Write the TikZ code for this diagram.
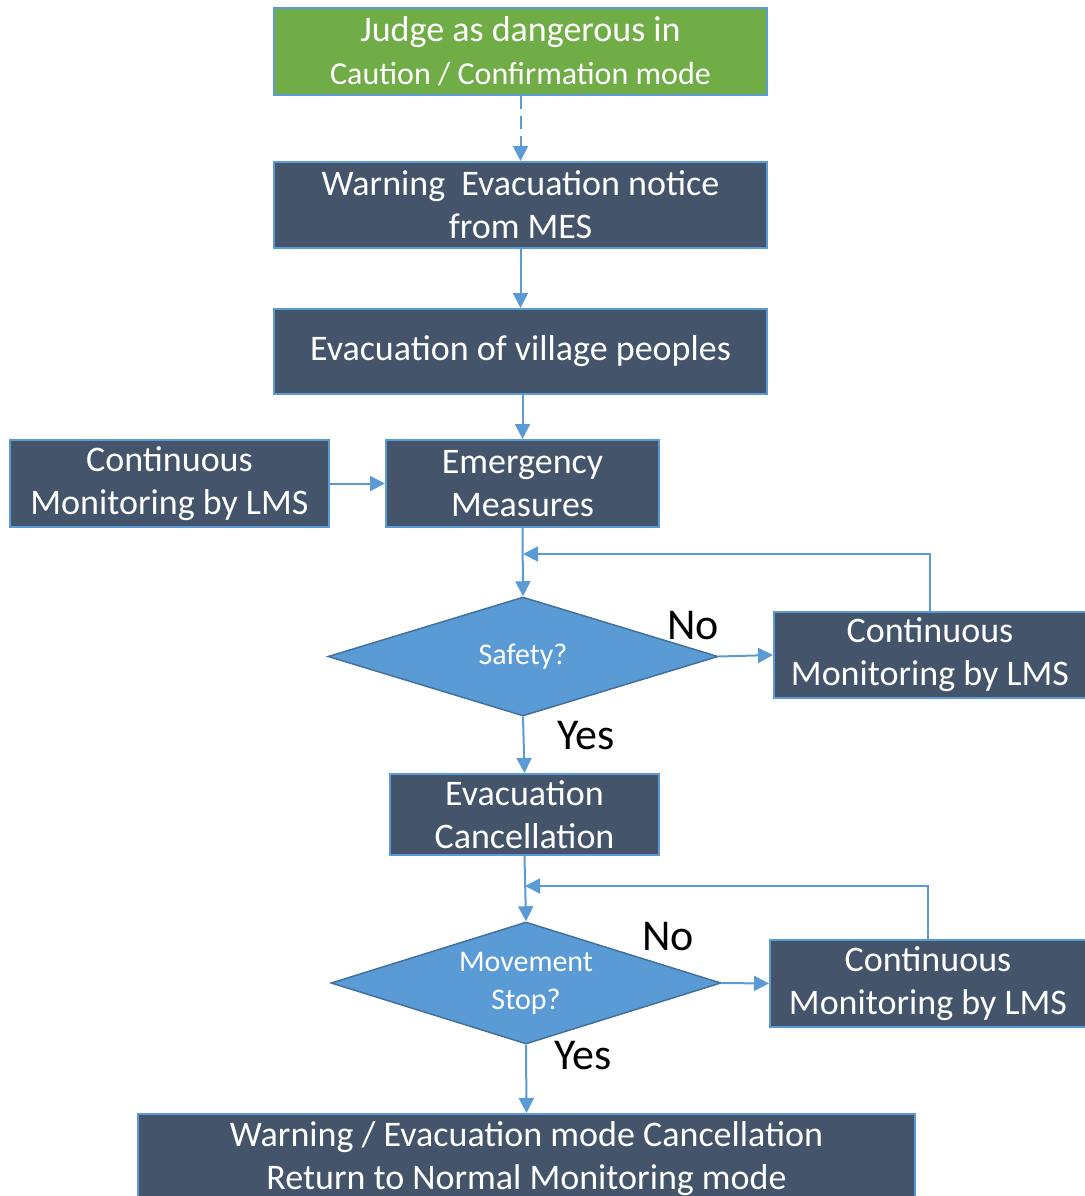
\documentclass[tikz,border=0pt]{standalone}
\usepackage{fontspec}
\setmainfont{Carlito}
\usetikzlibrary{arrows.meta,shapes.geometric}
\definecolor{boxfill}{HTML}{44546A}
\definecolor{boxedge}{HTML}{5B9BD5}
\definecolor{greenfill}{HTML}{70AD47}
\definecolor{diafill}{HTML}{5B9BD5}
\definecolor{diaedge}{HTML}{41719C}
\definecolor{flow}{HTML}{5B9BD5}
\tikzset{
  stepbox/.style={draw=boxedge, line width=2pt, fill=boxfill, text=white,
    align=center, inner sep=0pt, font=\fontsize{36}{43}\selectfont},
  startbox/.style={stepbox, fill=greenfill},
  decision/.style={diamond, draw=diaedge, line width=1.5pt, fill=diafill, text=white,
    align=center, inner sep=0pt, aspect=3.28, font=\fontsize{30}{38}\selectfont},
  flowline/.style={draw=flow, line width=2pt, -{Triangle[length=15pt,width=15pt]}},
  answer/.style={font=\fontsize{44}{44}\selectfont, text=black, inner sep=0pt}
}
\begin{document}
\begin{tikzpicture}[x=1pt,y=-1pt]
\useasboundingbox (0,0) rectangle (1084,1196);

% process boxes
\node[startbox, minimum width=493pt, minimum height=87pt] (judge) at (520.5,51.5)
  {Judge as dangerous in\\[0pt]{\fontsize{32}{38}\selectfont Caution / Confirmation mode}};
\node[stepbox, minimum width=493pt, minimum height=86pt] (notice) at (520.5,205)
  {Warning\hspace{0.45em}Evacuation notice\\from MES};
\node[stepbox, minimum width=493pt, minimum height=85pt] (evac) at (520.5,351.5)
  {Evacuation of village peoples};
\node[stepbox, minimum width=319pt, minimum height=87pt] (lmsleft) at (169.5,483.5)
  {Continuous\\Monitoring by LMS};
\node[stepbox, minimum width=273pt, minimum height=87pt] (emerg) at (522.5,483.5)
  {Emergency\\Measures};
\node[decision, minimum width=390pt, minimum height=119pt] (safety) at (523,656.5)
  {\raisebox{-4pt}{Safety?}};
\node[stepbox, minimum width=312pt, minimum height=86pt] (lmsone) at (930,655)
  {Continuous\\Monitoring by LMS};
\node[stepbox, minimum width=269pt, minimum height=81pt] (cancel) at (524.5,814.5)
  {Evacuation\\Cancellation};
\node[decision, minimum width=390pt, minimum height=122pt] (stop) at (526,983)
  {\raisebox{-4pt}{Movement}\\\raisebox{-4pt}{Stop?}};
\node[stepbox, minimum width=316pt, minimum height=87pt] (lmstwo) at (928,983.5)
  {Continuous\\Monitoring by LMS};
\node[stepbox, minimum width=777pt, minimum height=90pt] (final) at (526.5,1159)
  {Warning / Evacuation mode Cancellation\\Return to Normal Monitoring mode};

% merge points of the feedback loops
\coordinate (joinone) at (523,554);
\coordinate (jointwo) at (525,886);

% connectors
\draw[flowline, dashed, dash pattern=on 13pt off 7pt] (judge.south) -- (notice.north);
\draw[flowline] (notice.south) -- (evac.north);
\draw[flowline] (evac.south -| emerg.north) -- (emerg.north);
\draw[flowline] (lmsleft.east) -- (emerg.west);
\draw[flowline] (emerg.south) -- (safety.north);
\draw[flowline] (lmsone.north) -- (lmsone.north |- joinone) -- (joinone);
\draw[flowline] (safety.east) -- (lmsone.west);
\draw[flowline] (safety.south) -- (cancel.north);
\draw[flowline] (cancel.south) -- (stop.north);
\draw[flowline] (lmstwo.north) -- (lmstwo.north |- jointwo) -- (jointwo);
\draw[flowline] (stop.east) -- (lmstwo.west);
\draw[flowline] (stop.south) -- (final.north);

% branch labels
\node[answer] (noone) at (693,626) {No};
\node[answer] (yesone) at (586,736) {Yes};
\node[answer] (notwo) at (668,937) {No};
\node[answer] (yestwo) at (583,1056) {Yes};
\end{tikzpicture}
\end{document}
